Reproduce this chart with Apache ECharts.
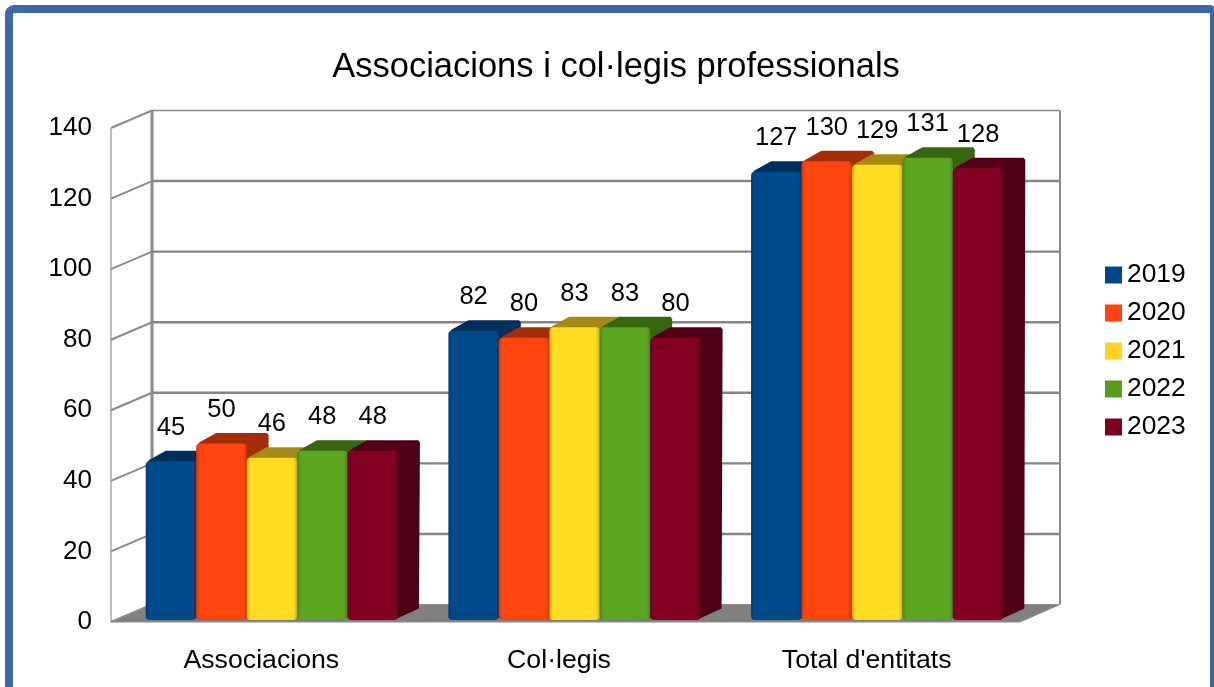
<!DOCTYPE html>
<html>
<head>
<meta charset="utf-8">
<style>html,body{margin:0;padding:0;background:#fff}#c{width:1214px;height:687px}</style>
<script src="https://cdn.jsdelivr.net/npm/echarts@6/dist/echarts.min.js"></script>
</head>
<body>
<div id="c"></div>
<script>
const categories = ['Associacions', 'Col·legis', "Total d'entitats"];
const years = ['2019', '2020', '2021', '2022', '2023'];
const v2019 = [45, 82, 127];
const v2020 = [50, 80, 130];
const v2021 = [46, 83, 129];
const v2022 = [48, 83, 131];
const v2023 = [48, 80, 128];
const yTicks = [0, 20, 40, 60, 80, 100, 120, 140];
const legendColors = ['#004586', '#ff420e', '#ffd320', '#579d1c', '#7e0021'];
const faceColors = ['#004a8c', '#ff450e', '#ffdb22', '#5ca51e', '#830020'];
const edgeColors = ['#003a6e', '#d23808', '#d0ac18', '#4a8418', '#640019'];
const topColors = ['#002f5c', '#a32d0a', '#a48a14', '#38650f', '#520015'];
const sideColors = ['#002f5c', '#a32d0a', '#a48a14', '#38650f', '#4b0014'];
const allValues = [v2019, v2020, v2021, v2022, v2023];
const categoryLabelShift = [4, 14, 4];

// projection constants of the pseudo-3D box
const WALL_DX = 40, WALL_DY = -17.5;
const BAR_DX = 8.5, BAR_DY = -2;
const DEPTH_DX = 22, DEPTH_DY = -10.5;

const FONT = '"Liberation Sans", Arial, sans-serif';
const chart = echarts.init(document.getElementById('c'), null, {renderer: 'canvas'});

function wallItem(params, api) {
  if (params.dataIndex !== 0) return null;
  const kids = [];
  const a0 = api.coord([0, 0]);
  const band = api.size([1, 0])[0];
  const left = a0[0] - band / 2;
  const right = left + band * categories.length;
  const yBottom = a0[1];
  const yTop = api.coord([0, yTicks[yTicks.length - 1]])[1];
  kids.push({type: 'polygon', shape: {points: [[left, yBottom], [left + WALL_DX, yBottom + WALL_DY], [right + WALL_DX, yBottom + WALL_DY], [right, yBottom]]},
    style: {fill: '#808080', stroke: '#8c8c8c', lineWidth: 1}});
  kids.push({type: 'line', shape: {x1: left - 1, y1: yTop, x2: left - 1, y2: yBottom}, style: {stroke: '#909090', lineWidth: 1.2}});
  kids.push({type: 'line', shape: {x1: left + WALL_DX, y1: yTop + WALL_DY, x2: left + WALL_DX, y2: yBottom + WALL_DY}, style: {stroke: '#8a8a8a', lineWidth: 3}});
  kids.push({type: 'line', shape: {x1: right + WALL_DX, y1: yTop + WALL_DY, x2: right + WALL_DX, y2: yBottom + WALL_DY}, style: {stroke: '#8a8a8a', lineWidth: 2}});
  yTicks.forEach(function (t, i) {
    const y = api.coord([0, t])[1];
    kids.push({type: 'line', shape: {x1: left - 1, y1: y, x2: left + WALL_DX, y2: y + WALL_DY}, style: {stroke: '#8a8a8a', lineWidth: 2}});
    if (i > 0) {
      kids.push({type: 'line', shape: {x1: left + WALL_DX, y1: y + WALL_DY, x2: right + WALL_DX, y2: y + WALL_DY},
        style: {stroke: '#858585', lineWidth: i === yTicks.length - 1 ? 1.6 : 2.4}});
    }
  });
  return {type: 'group', children: kids};
}

function barRenderer(s) {
  return function (params, api) {
    const cat = api.value(0), val = api.value(1);
    const band = api.size([1, 0])[0];
    const w = band / 6;
    const center = api.coord([cat, 0]);
    const top = api.coord([cat, val]);
    const x0 = center[0] + BAR_DX + (s - 2.5) * w;
    const x1 = x0 + w;
    const yb = center[1] + BAR_DY;
    const yt = top[1] + BAR_DY;
    const r = 4;
    return {type: 'group', children: [
      {type: 'polygon', shape: {points: [[x1 - 2, yb - 1], [x1 + DEPTH_DX - 1, yb + DEPTH_DY - 1], [x1 + DEPTH_DX, yt + DEPTH_DY + 2], [x1 + DEPTH_DX - 2, yt + DEPTH_DY], [x1 - 2, yt + 2]]},
        style: {fill: sideColors[s]}},
      {type: 'polygon', shape: {points: [[x0 + 1, yt + 2], [x0 + 3, yt - 1], [x0 + DEPTH_DX - 2, yt + DEPTH_DY], [x1 + DEPTH_DX - 2, yt + DEPTH_DY], [x1 + DEPTH_DX - 1, yt + DEPTH_DY + 2], [x1 - 1, yt + 2]]},
        style: {fill: topColors[s]}},
      {type: 'rect', shape: {x: x0, y: yt, width: w, height: yb - yt, r: r},
        style: {fill: {type: 'linear', x: 0, y: 0, x2: 1, y2: 0, colorStops: [
          {offset: 0, color: edgeColors[s]}, {offset: 0.07, color: faceColors[s]},
          {offset: 0.93, color: faceColors[s]}, {offset: 1, color: edgeColors[s]}]}}},
      {type: 'text', z2: 100, style: {text: String(val), x: x0 + w / 2, y: top[1] - 35.5, align: 'center', verticalAlign: 'middle',
        fill: '#000', font: '25.5px ' + FONT}}
    ]};
  };
}

const series = [{
  type: 'custom', name: 'wall', silent: true, z: 1,
  data: [[0, 0]], encode: {x: 0, y: 1}, renderItem: wallItem
}];
years.forEach(function (y, s) {
  series.push({
    type: 'custom', name: y, z: 3,
    itemStyle: {color: legendColors[s]},
    data: allValues[s].map(function (v, i) { return [i, v]; }),
    encode: {x: 0, y: 1},
    renderItem: barRenderer(s)
  });
});

chart.setOption({
  animation: false,
  backgroundColor: '#fff',
  title: {text: 'Associacions i col·legis professionals', left: 611, top: 45, textAlign: 'center',
    textStyle: {fontFamily: FONT, fontSize: 34.5, fontWeight: 'normal', color: '#000'}},
  legend: {data: years, orient: 'vertical', left: 1100, top: 257, itemWidth: 17, itemHeight: 17, itemGap: 12, icon: 'rect',
    selectedMode: false, textStyle: {fontFamily: FONT, fontSize: 26.4, color: '#000', padding: [0, 0, 0, 0]}},
  grid: {left: 112, top: 128, width: 908, height: 494, containLabel: false},
  xAxis: {type: 'category',
    data: categories.map(function (c, i) { return {value: c, textStyle: {padding: [0, categoryLabelShift[i], 0, 0]}}; }),
    axisLine: {show: false}, axisTick: {show: false}, splitLine: {show: false},
    axisLabel: {margin: 25, fontFamily: FONT, fontSize: 26.7, color: '#000', interval: 0}},
  yAxis: {type: 'value', min: 0, max: 140, interval: 20, axisLine: {show: false}, axisTick: {show: false}, splitLine: {show: false},
    axisLabel: {margin: 20, fontFamily: FONT, fontSize: 26, color: '#000', padding: [6, 0, 0, 0]}},
  series: series,
  graphic: [{type: 'rect', z: 100, silent: true, shape: {x: 9, y: 9, width: 1205, height: 700, r: 5},
    style: {fill: 'none', stroke: '#3a68a8', lineWidth: 8}}]
});
</script>
</body>
</html>
